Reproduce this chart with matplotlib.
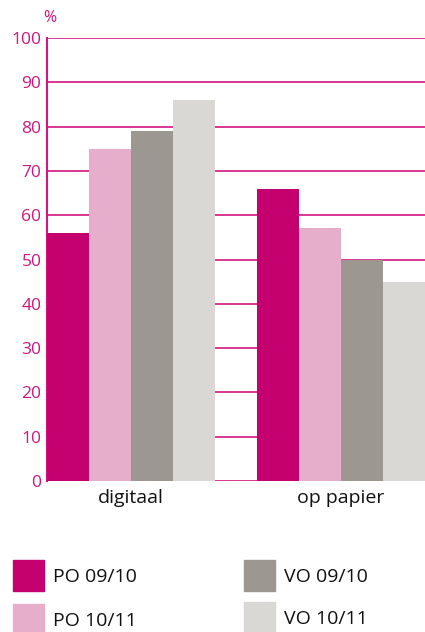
import numpy as np
import matplotlib.pyplot as plt
from matplotlib.patches import Rectangle

plt.rcParams['font.family'] = ['Open Sans', 'DejaVu Sans']

categories = ["digitaal", "op papier"]
series = ["PO 09/10", "PO 10/11", "VO 09/10", "VO 10/11"]
values = [
    [56, 66],  # PO 09/10
    [75, 57],  # PO 10/11
    [79, 50],  # VO 09/10
    [86, 45],  # VO 10/11
]
colors = ["#c5006f", "#e6aecb", "#9d9792", "#d9d8d4"]
yticks = [0, 10, 20, 30, 40, 50, 60, 70, 80, 90, 100]

magenta = "#d4147f"

fig = plt.figure(figsize=(4.25, 6.32), dpi=100)
ax = fig.add_axes([47 / 425, 1 - 481 / 632, 1 - 47 / 425, (481 - 38) / 632])

group_start = np.array([0, 5])
for i, (name, vals) in enumerate(zip(series, values)):
    ax.bar(group_start + i + 0.5, vals, width=1.0, color=colors[i], zorder=3, label=name)

ax.set_xlim(0, 9)
ax.set_ylim(0, 100)
ax.set_yticks(yticks)
ax.yaxis.grid(True, color=magenta, linewidth=1.2, zorder=0)
ax.set_axisbelow(True)
ax.tick_params(axis='y', length=0, pad=4, labelsize=12.5, labelcolor=magenta)
ax.set_xticks(group_start + 2)
ax.set_xticklabels(categories, fontsize=14, color="#111111")
ax.tick_params(axis='x', length=0, pad=6)

for s in ["top", "right", "bottom"]:
    ax.spines[s].set_visible(False)
ax.spines["left"].set_color(magenta)
ax.spines["left"].set_linewidth(1.5)

fig.text(43 / 425, 1 - 18 / 632, "%", color=magenta, fontsize=11.5, ha="left", va="center")

# legend drawn by hand, two columns
pos = [(13, 560), (13, 604), (244, 560), (244, 602)]
for (x, y), name, c in zip(pos, series, colors):
    fig.patches.append(Rectangle((x / 425, 1 - (y + 31) / 632), 31 / 425, 31 / 632,
                                 transform=fig.transFigure, color=c, figure=fig))
    fig.text((x + 40) / 425, 1 - (y + 17) / 632, name, fontsize=14, color="#111111",
             ha="left", va="center")

fig.savefig("out.png", dpi=100)
